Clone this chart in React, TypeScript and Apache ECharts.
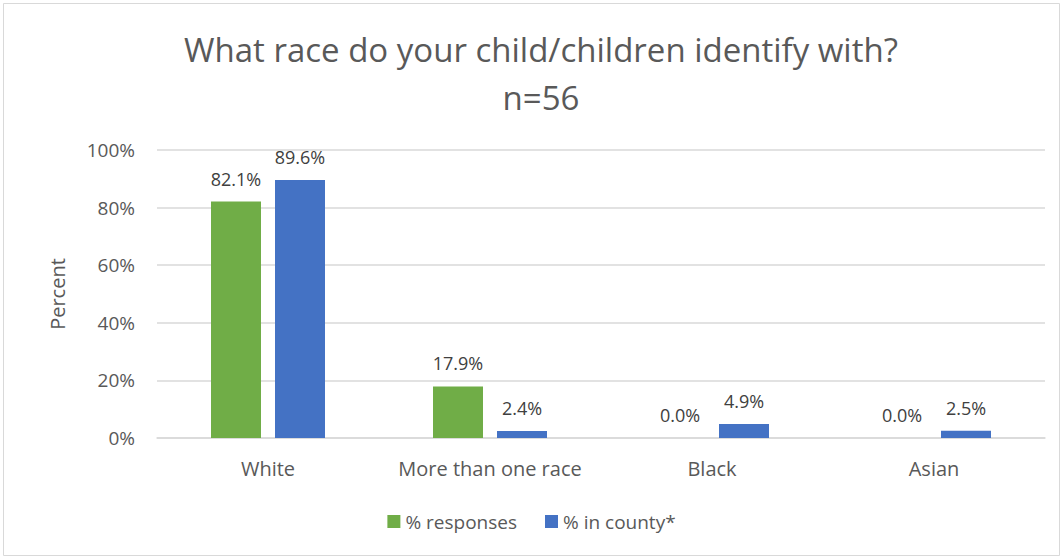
import React, { useEffect, useRef } from "react";
import * as echarts from "echarts";

const categories = ["White", "More than one race", "Black", "Asian"];
const responses = [82.1, 17.9, 0.0, 0.0];
const county = [89.6, 2.4, 4.9, 2.5];
const seriesNames = ["% responses", "% in county*"];
const yTicks = [0, 20, 40, 60, 80, 100];

const FONT = "'Open Sans', sans-serif";

export default function App() {
  const ref = useRef<HTMLDivElement>(null);
  useEffect(() => {
    document.body.style.margin = "0";
    const chart = echarts.init(ref.current!, null, { renderer: "svg" });
    const labelStyle = {
      show: true,
      position: "top" as const,
      distance: 14,
      color: "#404040",
      fontSize: 18,
      fontFamily: FONT,
      formatter: (p: any) => p.value.toFixed(1) + "%",
    };
    chart.setOption({
      animation: false,
      backgroundColor: "#fff",
      title: {
        text: "What race do your child/children identify with?\nn=56",
        left: 536,
        textAlign: "center",
        top: 20,
        textStyle: {
          fontSize: 33,
          fontWeight: "normal",
          color: "#595959",
          fontFamily: FONT,
          lineHeight: 48,
        },
      },
      graphic: [
        {
          type: "rect",
          shape: { x: 3.5, y: 3.5, width: 1056, height: 552 },
          style: { fill: "none", stroke: "#d9d9d9", lineWidth: 1 },
          silent: true,
        },
      ],
      legend: {
        bottom: 23,
        left: "center",
        itemWidth: 13,
        itemHeight: 13,
        itemGap: 28,
        icon: "rect",
        textStyle: { fontSize: 19, color: "#595959", fontFamily: FONT },
        data: seriesNames,
      },
      grid: { left: 157, right: 18, top: 150, bottom: 121 },
      xAxis: {
        type: "category",
        data: categories,
        axisTick: { show: false },
        axisLine: { lineStyle: { color: "#d9d9d9", width: 1.5 } },
        axisLabel: {
          interval: 0,
          hideOverlap: false,
          fontSize: 20,
          color: "#595959",
          fontFamily: FONT,
          margin: 20,
        },
      },
      yAxis: {
        type: "value",
        min: yTicks[0],
        max: yTicks[yTicks.length - 1],
        interval: 20,
        name: "Percent",
        nameLocation: "middle",
        nameGap: 90,
        nameTextStyle: { fontSize: 20, color: "#595959", fontFamily: FONT },
        axisLabel: {
          fontSize: 19,
          color: "#595959",
          fontFamily: FONT,
          margin: 22,
          formatter: (v: number) => v + "%",
        },
        splitLine: { lineStyle: { color: "#d9d9d9", width: 1.5 } },
        axisLine: { show: false },
        axisTick: { show: false },
      },
      series: [
        {
          name: seriesNames[0],
          type: "bar",
          data: responses,
          barWidth: 50,
          barGap: "28%",
          itemStyle: { color: "#70ad47" },
          label: labelStyle,
        },
        {
          name: seriesNames[1],
          type: "bar",
          data: county,
          barWidth: 50,
          barGap: "28%",
          itemStyle: { color: "#4472c4" },
          label: labelStyle,
        },
      ],
    });
    return () => chart.dispose();
  }, []);
  return <div ref={ref} style={{ width: 1063, height: 559 }} />;
}
